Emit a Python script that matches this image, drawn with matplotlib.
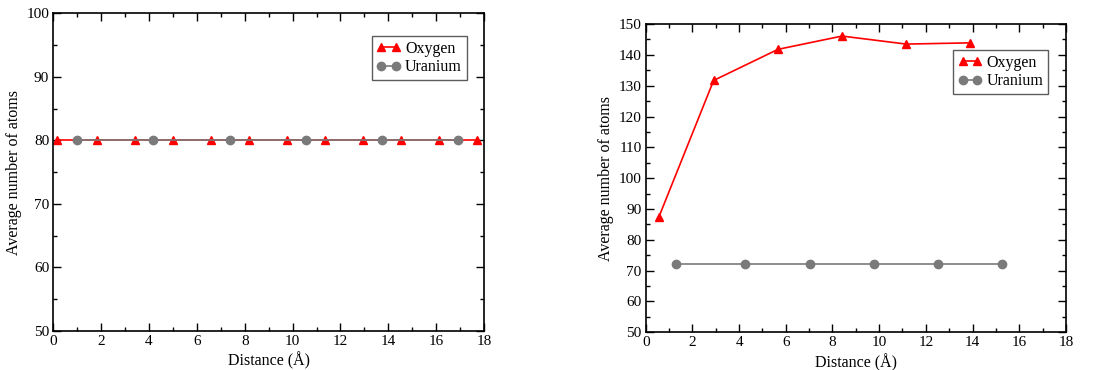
import matplotlib
matplotlib.use("Agg")
import matplotlib.pyplot as plt
from matplotlib.ticker import MultipleLocator

plt.rcParams['font.family'] = ['Liberation Serif', 'DejaVu Serif']

# Panel (a): uniform distribution
ox_a_x = [0.17, 1.81, 3.40, 4.99, 6.57, 8.16, 9.75, 11.35, 12.94, 14.53, 16.11, 17.70]
ox_a_y = [80, 80, 80, 80, 80, 80, 80, 80, 80, 80, 80, 80]
u_a_x = [1.00, 4.18, 7.37, 10.54, 13.73, 16.91]
u_a_y = [80, 80, 80, 80, 80, 80]

# Panel (b): oxygen build-up
ox_b_x = [0.57, 2.91, 5.67, 8.41, 11.16, 13.89]
ox_b_y = [87.5, 131.7, 141.8, 146.1, 143.5, 143.9]
u_b_x = [1.30, 4.26, 7.04, 9.77, 12.51, 15.26]
u_b_y = [72, 72, 72, 72, 72, 72]

RED = '#ff0000'
GREY = '#7a7a7a'

fig = plt.figure(figsize=(11, 3.7), dpi=100)
ax1 = fig.add_axes([0.0485, 0.106, 0.3915, 0.858])
ax2 = fig.add_axes([0.587, 0.102, 0.382, 0.833])


def style(ax, ymin, ymax, legend_anchor):
    ax.set_xlim(0, 18)
    ax.set_ylim(ymin, ymax)
    ax.xaxis.set_major_locator(MultipleLocator(2))
    ax.xaxis.set_minor_locator(MultipleLocator(1))
    ax.yaxis.set_major_locator(MultipleLocator(10))
    ax.yaxis.set_minor_locator(MultipleLocator(5))
    ax.tick_params(which='both', direction='in', top=True, right=True,
                   labelsize=11, width=1.0, pad=3)
    ax.tick_params(which='major', length=6)
    ax.tick_params(which='minor', length=3)
    for s in ax.spines.values():
        s.set_linewidth(1.2)
    ax.set_xlabel('Distance (Å)', fontsize=11.5, labelpad=3)
    ax.set_ylabel('Average number of atoms', fontsize=11.5, labelpad=3)
    leg = ax.legend(loc='upper right', bbox_to_anchor=legend_anchor,
                    fontsize=11.5, frameon=True, fancybox=False, numpoints=2,
                    handlelength=1.5, handletextpad=0.3, borderpad=0.3,
                    labelspacing=0.15, borderaxespad=0)
    leg.get_frame().set_edgecolor('#333333')
    leg.get_frame().set_linewidth(1.0)


ax1.plot(ox_a_x, ox_a_y, color=RED, marker='^', markersize=6, lw=1.2, label='Oxygen')
ax1.plot(u_a_x, u_a_y, color=GREY, marker='o', markersize=6, lw=1.2, label='Uranium')
style(ax1, 50, 100, (0.96, 0.928))

ax2.plot(ox_b_x, ox_b_y, color=RED, marker='^', markersize=6, lw=1.2, label='Oxygen')
ax2.plot(u_b_x, u_b_y, color=GREY, marker='o', markersize=6, lw=1.2, label='Uranium')
style(ax2, 50, 150, (0.958, 0.916))

fig.savefig('out.png', dpi=100)
